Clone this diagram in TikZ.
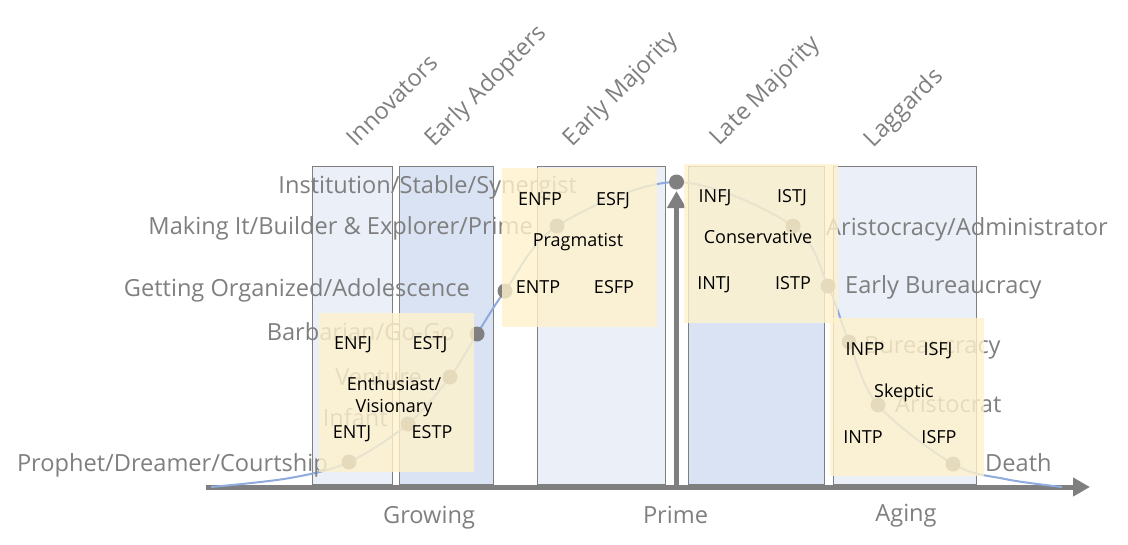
\documentclass[tikz,border=0pt]{standalone}
\usepackage{fontspec}
\setmainfont{Open Sans}
\usetikzlibrary{arrows.meta}
\definecolor{lblgray}{HTML}{7F7F7F}
\definecolor{colLight}{HTML}{EAEFF8}
\definecolor{colDark}{HTML}{DAE3F3}
\definecolor{creamy}{HTML}{FFF2CC}
\definecolor{curveBlue}{HTML}{8FAADC}
\definecolor{dotGray}{HTML}{808080}
\begin{document}
\begin{tikzpicture}[x=1pt,y=-1pt,
  lab/.style={text=lblgray, font=\fontsize{23.6}{28}\selectfont, inner sep=0pt, text height=16.8pt, text depth=0pt},
  rlab/.style={lab, rotate=45},
  boxtxt/.style={text=black, font=\fontsize{18}{21.6}\selectfont, inner sep=0pt, text height=13pt, text depth=0pt},
  boxtwo/.style={text=black, font=\fontsize{18}{21.6}\selectfont, inner sep=0pt, align=center},
  colbox/.style={draw=lblgray, line width=1pt},
  creambox/.style={fill=creamy, fill opacity=0.8},
  dotnode/.style={circle, fill=dotGray, minimum size=15pt, inner sep=0pt},
  lifecurve/.style={draw=curveBlue, line width=2pt},
  axisline/.style={draw=lblgray, line width=5pt, -{Triangle[length=17pt,width=18pt]}},
]
\useasboundingbox (0,0) rectangle (1128,544);

% columns
\path[colbox, fill=colLight] (312,166) rectangle (392,484);
\path[colbox, fill=colDark]  (399,166) rectangle (493,484);
\path[colbox, fill=colLight] (537,166) rectangle (665,484);
\path[colbox, fill=colDark]  (688,166) rectangle (824,484);
\path[colbox, fill=colLight] (833,166) rectangle (976,484);

% rotated category labels
\node[rlab] (innov) at (392,100) {Innovators};
\node[rlab] (eadopt) at (485,85) {Early Adopters};
\node[rlab] (emaj) at (620,88) {Early Majority};
\node[rlab] (lmaj) at (764,90) {Late Majority};
\node[rlab] (lagg) at (903,107) {Laggards};

% horizontal axis
\coordinate (ax0) at (206,487);
\coordinate (ax1) at (1090,487);
\draw[axisline] (ax0) -- (ax1);

% curve points
\coordinate (c0) at (211,487);
\coordinate (q0) at (290,478);
\coordinate (p1) at (349,462);
\coordinate (p2) at (408,424);
\coordinate (p3) at (450,377);
\coordinate (p4) at (477,334);
\coordinate (p5) at (505,291);
\coordinate (p6) at (557,226);
\coordinate (p7) at (676.5,182);
\coordinate (p8) at (793,226);
\coordinate (p9) at (828,286);
\coordinate (p10) at (849,342);
\coordinate (p11) at (878,405);
\coordinate (p12) at (953,464);
\coordinate (q13) at (1005,479);
\coordinate (c13) at (1062,487);
\draw[lifecurve] plot[smooth, tension=0.55] coordinates {(c0) (q0) (p1) (p2) (p3) (p4) (p5) (p6) (p7) (p8) (p9) (p10) (p11) (p12) (q13) (c13)};

% vertical arrow
\coordinate (vb) at (676.5,487);
\coordinate (vt) at (676.5,191);
\draw[axisline] (vb) -- (vt);

% dots
\foreach \p in {p1,p2,p3,p4,p5,p6,p7,p8,p9,p10,p11,p12}
  \node[dotnode] (d\p) at (\p) {};

% stage labels
\node[lab, anchor=east] (linst) at (577,185) {Institution/Stable/Synergist};
\node[lab, anchor=east] (lmake) at (533,226) {Making It/Builder \& Explorer/Prime};
\node[lab, anchor=east] (lgetorg) at (470,288) {Getting Organized/Adolescence};
\node[lab, anchor=east] (lbarb) at (455,332) {Barbarian/Go-Go};
\node[lab, anchor=east] (lvent) at (422,377) {Venture};
\node[lab, anchor=east] (linf) at (388,418) {Infant};
\node[lab, anchor=east] (lproph) at (328,463) {Prophet/Dreamer/Courtship};
\node[lab, anchor=west] (larist) at (826,227) {Aristocracy/Administrator};
\node[lab, anchor=west] (lebur) at (845,285) {Early Bureaucracy};
\node[lab, anchor=west] (lbur) at (864,345) {Bureaucracy};
\node[lab, anchor=west] (laristo) at (895,404) {Aristocrat};
\node[lab, anchor=west] (ldeath) at (985,463) {Death};

% bottom labels
\node[lab] (growing) at (429,515) {Growing};
\node[lab] (prime) at (675.5,515) {Prime};
\node[lab] (aging) at (906,513) {Aging};

% cream overlays
\path[creambox] (319,313) rectangle (474,472);
\path[creambox] (502,168) rectangle (657,327);
\path[creambox] (684,164) rectangle (838,323);
\path[creambox] (830,318) rectangle (984,476);

% box A
\node[boxtxt] (enfj) at (353,343) {ENFJ};
\node[boxtxt] (estj) at (430,343) {ESTJ};
\node[boxtwo] (enth) at (394,397) {Enthusiast/\\Visionary};
\node[boxtxt] (entj) at (352,432) {ENTJ};
\node[boxtxt] (estp) at (432,432) {ESTP};
% box B
\node[boxtxt] (enfp) at (540,199) {ENFP};
\node[boxtxt] (esfj) at (613,199) {ESFJ};
\node[boxtxt] (prag) at (578,240) {Pragmatist};
\node[boxtxt] (entp) at (538,287) {ENTP};
\node[boxtxt] (esfp) at (614,287) {ESFP};
% box C
\node[boxtxt] (infj) at (715,196) {INFJ};
\node[boxtxt] (istj) at (792,196) {ISTJ};
\node[boxtxt] (cons) at (758,237) {Conservative};
\node[boxtxt] (intj) at (714,283) {INTJ};
\node[boxtxt] (istp) at (793,283) {ISTP};
% box D
\node[boxtxt] (infp) at (865,349) {INFP};
\node[boxtxt] (isfj) at (938,349) {ISFJ};
\node[boxtxt] (skep) at (904,391) {Skeptic};
\node[boxtxt] (intp) at (863,437) {INTP};
\node[boxtxt] (isfp) at (939,437) {ISFP};
\end{tikzpicture}
\end{document}
